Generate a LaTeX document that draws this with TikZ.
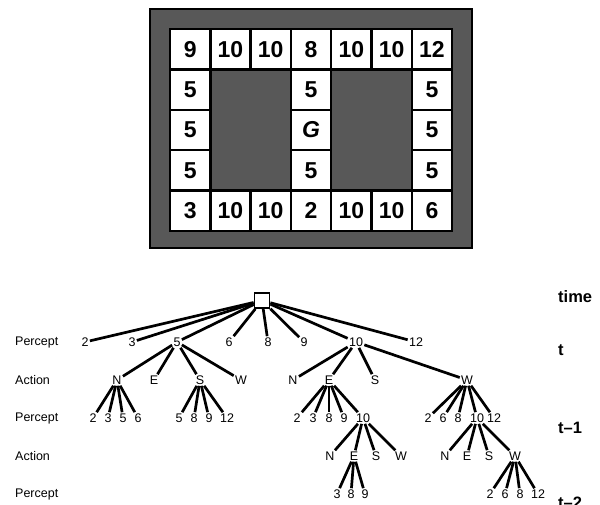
\documentclass[tikz,border=0pt]{standalone}
\usepackage{fontspec}
\setmainfont{Liberation Sans}
\definecolor{wall}{RGB}{88,88,88}
\begin{document}
\begin{tikzpicture}[x=1pt,y=-1pt,
  cell/.style={draw=black,line width=2.4pt,fill=white,minimum size=40.3pt,inner sep=0pt,
    font=\fontsize{23}{26}\selectfont\bfseries},
  tn/.style={inner sep=1.2pt,font=\fontsize{12.5}{14}\selectfont},
  lab/.style={anchor=west,inner sep=0pt,font=\fontsize{12.5}{14}\selectfont},
  tlab/.style={anchor=west,inner sep=0pt,font=\fontsize{16.5}{18}\selectfont\bfseries},
  tl/.style={line width=2.7pt},
  rootbox/.style={draw=black,line width=1.8pt,fill=white,minimum size=15pt,inner sep=0pt}]
\useasboundingbox (0,0) rectangle (600,505);
% grid panel
\draw[fill=wall,line width=1.5pt] (150,9) rectangle (472,248);
\foreach \v [count=\i from 0] in {9,10,10,8,10,10,12}
  \node[cell] (c0\i) at ({170+40.3*(\i+0.5)},{29.3+40.3*0.5}) {\v};
\foreach \v [count=\i from 0] in {3,10,10,2,10,10,6}
  \node[cell] (c4\i) at ({170+40.3*(\i+0.5)},{29.3+40.3*4.5}) {\v};
\foreach \r/\m in {1/5,2/{\itshape G},3/5}{
  \node[cell] (c\r0) at ({170+40.3*0.5},{29.3+40.3*(\r+0.5)}) {5};
  \node[cell] (c\r3) at ({170+40.3*3.5},{29.3+40.3*(\r+0.5)}) {\m};
  \node[cell] (c\r6) at ({170+40.3*6.5},{29.3+40.3*(\r+0.5)}) {5};
}
% row labels
\node[lab] (l1) at (15,342) {Percept};
\node[lab] (l2) at (15,380) {Action};
\node[lab] (l3) at (15,418) {Percept};
\node[lab] (l4) at (15,456) {Action};
\node[lab] (l5) at (15,494) {Percept};
\node[tlab] (t0) at (558,297) {time};
\node[tlab] (t1) at (558,350) {t};
\node[tlab] (t2) at (558,428) {t\textendash1};
\node[tlab] (t3) at (558,503) {t\textendash2};
% tree
\node[rootbox] (root) at (262,300.5) {};
\foreach \v/\x in {2/85,3/132,5/177,6/229,8/268,9/304,10/356,12/416}{
  \node[tn] (p\v) at (\x,342) {\v};
  \draw[tl] (root) -- (p\v);
}
\foreach \v/\x in {N/117,E/154,S/200,W/241}{
  \node[tn] (a\v) at (\x,380) {\v};
  \draw[tl] (p5) -- (a\v);
}
\foreach \v/\x in {N/293,E/329,S/375,W/467}{
  \node[tn] (b\v) at (\x,380) {\v};
  \draw[tl] (p10) -- (b\v);
}
\foreach \v/\x in {2/93,3/108,5/123,6/138}{
  \node[tn] (aN\v) at (\x,418) {\v};
  \draw[tl] (aN) -- (aN\v);
}
\foreach \v/\x in {5/179,8/194,9/209,12/227}{
  \node[tn] (aS\v) at (\x,418) {\v};
  \draw[tl] (aS) -- (aS\v);
}
\foreach \v/\x in {2/297,3/313,8/329,9/344,10/363}{
  \node[tn] (bE\v) at (\x,418) {\v};
  \draw[tl] (bE) -- (bE\v);
}
\foreach \v/\x in {2/428,6/443,8/458,10/477,12/494}{
  \node[tn] (bW\v) at (\x,418) {\v};
  \draw[tl] (bW) -- (bW\v);
}
\foreach \v/\x in {N/330,E/354,S/376,W/401}{
  \node[tn] (e\v) at (\x,456) {\v};
  \draw[tl] (bE10) -- (e\v);
}
\foreach \v/\x in {N/445,E/467,S/489,W/515}{
  \node[tn] (w\v) at (\x,456) {\v};
  \draw[tl] (bW10) -- (w\v);
}
\foreach \v/\x in {3/337,8/351,9/365}{
  \node[tn] (eE\v) at (\x,494) {\v};
  \draw[tl] (eE) -- (eE\v);
}
\foreach \v/\x in {2/490,6/505,8/520,12/538}{
  \node[tn] (wW\v) at (\x,494) {\v};
  \draw[tl] (wW) -- (wW\v);
}
\end{tikzpicture}
\end{document}
